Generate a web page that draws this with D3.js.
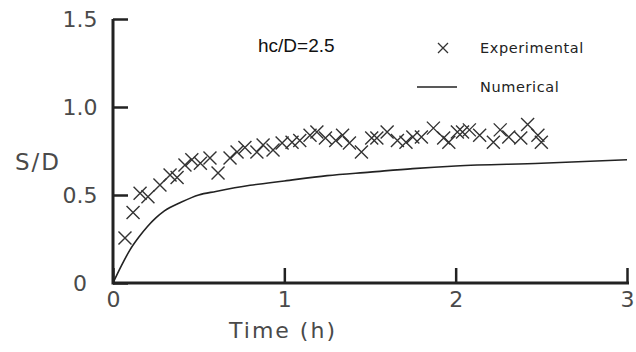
<!DOCTYPE html>
<html><head><meta charset="utf-8">
<script src="https://cdn.jsdelivr.net/npm/d3@7"></script>
<style>
html,body{margin:0;padding:0;background:#fff;}
svg{display:block;}
</style></head>
<body>
<svg id="chart" width="636" height="352"></svg>
<script>
// Experimental points
const expTime = [0.07,0.117,0.158,0.204,0.274,0.333,0.374,0.42,0.46,0.51,0.566,0.613,0.683,0.724,0.77,0.84,0.876,0.934,0.987,1.045,1.09,1.15,1.19,1.24,1.30,1.34,1.38,1.45,1.51,1.54,1.60,1.66,1.71,1.75,1.80,1.87,1.93,1.96,2.01,2.04,2.08,2.14,2.22,2.26,2.31,2.38,2.42,2.48,2.50];
const expSD   = [0.256,0.40,0.51,0.49,0.557,0.614,0.60,0.67,0.70,0.68,0.71,0.625,0.71,0.744,0.77,0.744,0.784,0.756,0.795,0.80,0.81,0.84,0.858,0.824,0.81,0.84,0.795,0.744,0.824,0.824,0.858,0.81,0.80,0.83,0.83,0.88,0.824,0.80,0.858,0.858,0.87,0.84,0.80,0.87,0.83,0.824,0.90,0.84,0.80];
// Numerical curve
const numTime = [0,0.05,0.1,0.15,0.2,0.25,0.3,0.4,0.5,0.6,0.8,1.0,1.25,1.5,1.75,2.0,2.5,3.0];
const numSD   = [0,0.10,0.19,0.26,0.32,0.37,0.41,0.46,0.50,0.52,0.555,0.58,0.61,0.63,0.65,0.665,0.68,0.70];
// Ticks
const xTicks = [0,1,2,3];
const xTickLabels = ["0","1","2","3"];
const yTicks = [0,0.5,1.0,1.5];
const yTickLabels = ["0","0.5","1.0","1.5"];

const svg = d3.select("#chart");
const x = d3.scaleLinear().domain([0,3]).range([113,627]);
const y = d3.scaleLinear().domain([0,1.5]).range([283,19]);

const tickFont = "'DejaVu Sans', sans-serif";
const ink = "#222";
const txt = "#4a4a4a";

// Numerical curve
const line = d3.line().x((d,i)=>x(numTime[i])).y((d,i)=>y(numSD[i])).curve(d3.curveMonotoneX);
svg.append("path").datum(numSD).attr("d", line)
  .attr("fill","none").attr("stroke",ink).attr("stroke-width",1.6);

// Experimental markers
const ms = 6.5;
const gExp = svg.append("g");
expTime.forEach((t,i)=>{
  const cx = x(t), cy = y(expSD[i]);
  gExp.append("path")
    .attr("d",`M${cx-ms},${cy-ms}L${cx+ms},${cy+ms}M${cx-ms},${cy+ms}L${cx+ms},${cy-ms}`)
    .attr("stroke","#333").attr("stroke-width",1.4).attr("fill","none");
});

// Axes
const xAxis = d3.axisBottom(x).tickValues(xTicks).tickSize(-15).tickPadding(12)
  .tickFormat((d,i)=>xTickLabels[i]);
const gx = svg.append("g").attr("transform",`translate(0,${y(0)})`).call(xAxis);
const yAxis = d3.axisLeft(y).tickValues(yTicks).tickSize(-15).tickPadding(0)
  .tickFormat((d,i)=>yTickLabels[i]);
const gy = svg.append("g").attr("transform",`translate(${x(0)},0)`).call(yAxis);
[gx,gy].forEach(g=>{
  g.select(".domain").attr("stroke",ink).attr("stroke-width",3);
  g.selectAll(".tick line").attr("stroke",ink).attr("stroke-width",2.5);
  g.selectAll("text").attr("font-family",tickFont).attr("font-size",22).attr("fill",txt);
});
gx.select(".domain").attr("d",`M${x(0)},0H${x(3)+2}`);
gy.select(".domain").attr("d",`M0,${y(1.5)}V${y(0)+1.5}`);
gx.selectAll(".tick text").attr("dy","0.55em");
gy.selectAll(".tick text").attr("x",80-x(0)).attr("text-anchor","middle").attr("dy","0.36em");

// Axis titles
svg.append("text").attr("x",283).attr("y",338).attr("text-anchor","middle")
  .attr("font-family",tickFont).attr("font-size",22).attr("letter-spacing",2)
  .attr("fill",txt).text("Time (h)");
svg.append("text").attr("x",38).attr("y",170).attr("text-anchor","middle")
  .attr("font-family",tickFont).attr("font-size",23).attr("letter-spacing",2)
  .attr("fill",txt).text("S/D");

// Annotation
svg.append("text").attr("x",258).attr("y",52)
  .attr("font-family","'Liberation Sans Narrow','Liberation Sans',sans-serif")
  .attr("font-size",19).attr("fill","#111").text("hc/D=2.5");

// Legend
const lg = svg.append("g");
const lx = 443, ly1 = 48, ly2 = 87;
lg.append("path").attr("d",`M${lx-5},${ly1-5}L${lx+5},${ly1+5}M${lx-5},${ly1+5}L${lx+5},${ly1-5}`)
  .attr("stroke","#333").attr("stroke-width",1.3);
lg.append("line").attr("x1",417).attr("x2",457).attr("y1",ly2).attr("y2",ly2)
  .attr("stroke",ink).attr("stroke-width",1.6);
lg.append("text").attr("x",480).attr("y",ly1+5).attr("font-family",tickFont)
  .attr("font-size",14.5).attr("letter-spacing",0.6).attr("fill","#222").text("Experimental");
lg.append("text").attr("x",480).attr("y",ly2+5).attr("font-family",tickFont)
  .attr("font-size",14.5).attr("letter-spacing",0.6).attr("fill","#222").text("Numerical");
</script>
</body></html>
